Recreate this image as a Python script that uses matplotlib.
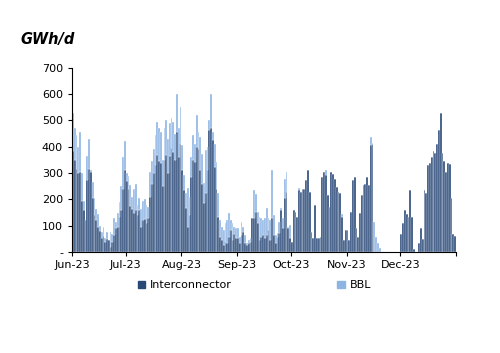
import matplotlib
matplotlib.use("Agg")
import matplotlib.pyplot as plt
from matplotlib.patches import Patch
import numpy as np
import pandas as pd

# daily totals (Interconnector + BBL) and Interconnector, GWh/d, Jun-Dec 2023
jun_total = [530, 470, 445, 400, 455, 300, 195, 120, 365, 430,
             310, 265, 205, 165, 145, 100, 75, 95, 55, 75,
             45, 75, 70, 130, 115, 150, 190, 250, 360, 420]
jun_ic = [385, 350, 315, 300, 305, 195, 160, 120, 275, 315,
          305, 205, 140, 120, 95, 80, 55, 60, 40, 50,
          45, 20, 40, 65, 90, 95, 135, 160, 240, 310]
jul_total = [300, 290, 255, 210, 240, 260, 180, 205, 165, 195,
             200, 180, 170, 305, 345, 390, 445, 495, 470, 455,
             350, 470, 500, 430, 490, 510, 495, 450, 600, 470, 550]
jul_ic = [270, 240, 175, 165, 150, 160, 140, 160, 95, 120,
          125, 110, 130, 210, 260, 300, 330, 370, 345, 340,
          250, 350, 370, 300, 365, 395, 380, 350, 455, 360, 410]
aug_total = [405, 292, 223, 242, 210, 361, 444, 411, 520, 456,
             437, 374, 261, 387, 400, 500, 602, 456, 411, 342,
             223, 121, 96, 83, 109, 121, 147, 121, 109, 96, 90]
aug_ic = [311, 236, 167, 96, 140, 286, 348, 341, 398, 392,
          311, 260, 186, 224, 311, 463, 470, 425, 323, 239,
          134, 58, 45, 26, 39, 33, 58, 83, 45, 70, 52]
sep_total = [90, 58, 115, 96, 64, 33, 45, 52, 128, 235,
             222, 153, 134, 128, 121, 128, 166, 128, 121, 311,
             140, 64, 71, 115, 166, 128, 279, 305, 96, 102]
sep_ic = [52, 33, 64, 77, 33, 27, 33, 39, 128, 128,
          153, 109, 45, 58, 64, 52, 64, 83, 45, 128,
          64, 33, 58, 71, 159, 90, 204, 229, 90, 52]
oct_ic = [39, 159, 153, 134, 235, 229, 241, 241, 273, 311,
          229, 77, 52, 178, 52, 52, 58, 286, 305, 292,
          216, 172, 305, 298, 279, 248, 229, 223, 134, 45, 83]
oct_bbl = [0, 0, 0, 0, 10, 0, 0, 0, 0, 0,
           0, 0, 0, 0, 0, 0, 0, 0, 0, 20,
           0, 0, 0, 0, 0, 0, 0, 0, 10, 0, 0]
nov_ic = [83, 45, 153, 273, 286, 90, 58, 147, 216, 254,
          260, 286, 254, 406, 410, 0, 0, 0, 0, 0,
          0, 0, 0, 0, 0, 0, 0, 0, 0, 0]
nov_bbl = [0, 0, 0, 0, 0, 0, 0, 0, 0, 0,
           0, 0, 0, 30, 5, 115, 58, 33, 14, 0,
           0, 0, 0, 0, 0, 0, 0, 0, 0, 0]
dec_ic = [70, 110, 160, 145, 135, 235, 135, 10, 0, 0,
          35, 90, 50, 235, 225, 330, 340, 360, 385, 375,
          410, 465, 530, 375, 345, 305, 340, 335, 205, 70, 60]

interconnector = np.array(jun_ic + jul_ic + aug_ic + sep_ic + oct_ic + nov_ic + dec_ic)
bbl = np.concatenate([
    np.array(jun_total) - np.array(jun_ic),
    np.array(jul_total) - np.array(jul_ic),
    np.array(aug_total) - np.array(aug_ic),
    np.array(sep_total) - np.array(sep_ic),
    oct_bbl, nov_bbl, np.zeros(len(dec_ic)),
])
days = pd.date_range("2023-06-01", "2023-12-31", freq="D")

dark = "#284878"
light = "#8DB4E2"

fig = plt.figure(figsize=(5.0, 3.53), dpi=100)
ax = fig.add_axes([0.144, 0.286, 0.768, 0.522])

ax.bar(days, interconnector, width=1.0, align="edge", color=dark,
       edgecolor="white", linewidth=0.25)
ax.bar(days, bbl, bottom=interconnector, width=1.0, align="edge", color=light,
       edgecolor="white", linewidth=0.25)

ax.set_ylim(0, 700)
ax.set_xlim(pd.Timestamp("2023-06-01"), pd.Timestamp("2024-01-01"))
ax.set_yticks(range(0, 701, 100))
ax.set_yticklabels(["-"] + [str(v) for v in range(100, 701, 100)])

month_ticks = pd.date_range("2023-06-01", "2024-01-01", freq="MS")
ax.set_xticks(month_ticks)
ax.set_xticklabels([d.strftime("%b-%y") for d in month_ticks[:-1]] + [""])

for side in ["top", "right"]:
    ax.spines[side].set_visible(False)
for side in ["left", "bottom"]:
    ax.spines[side].set_linewidth(0.8)
ax.tick_params(axis="both", labelsize=8, length=3, width=0.8)
ax.tick_params(axis="x", pad=3)

fig.text(0.04, 0.875, "GWh/d", fontsize=10.5, fontweight="bold", fontstyle="italic")

handles = [Patch(color=dark, label="Interconnector"), Patch(color=light, label="BBL")]
ax.legend(handles=handles, loc="upper center", bbox_to_anchor=(0.475, -0.1),
          ncol=2, frameon=False, fontsize=8, handlelength=0.7, handleheight=0.7,
          handletextpad=0.4, columnspacing=9.5)

fig.savefig("out.png", dpi=100)
